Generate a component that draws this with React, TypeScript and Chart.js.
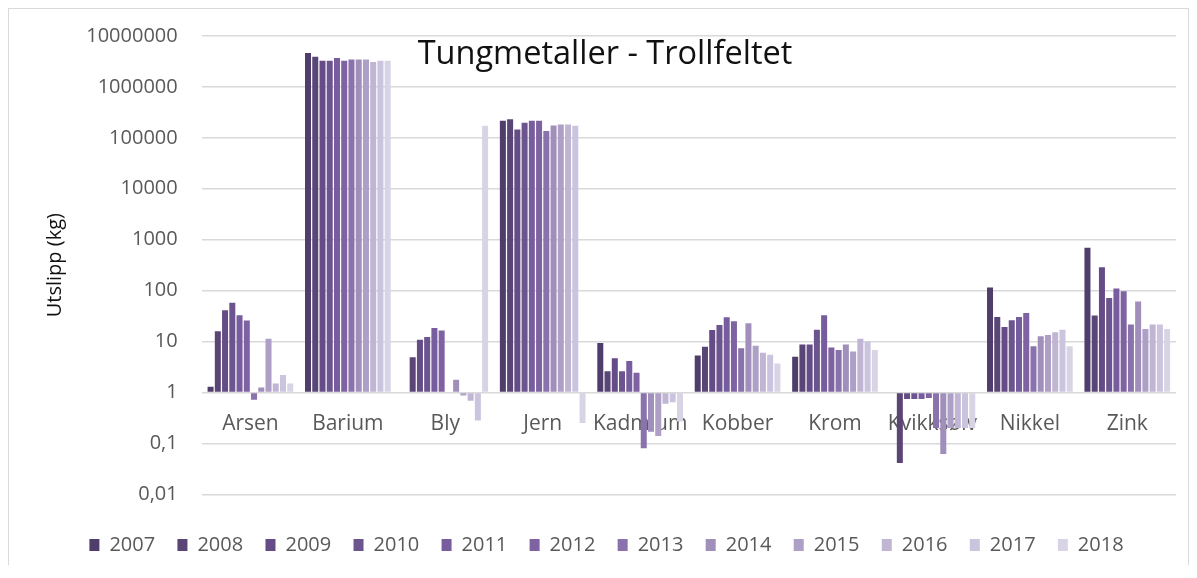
import React, { useEffect, useRef } from "react";
import { Chart, registerables } from "chart.js";

Chart.register(...registerables);

const titleText = "Tungmetaller - Trollfeltet";
const yAxisTitle = "Utslipp (kg)";
const categories = ["Arsen", "Barium", "Bly", "Jern", "Kadmium", "Kobber", "Krom", "Kvikksølv", "Nikkel", "Zink"];
const years = ["2007", "2008", "2009", "2010", "2011", "2012", "2013", "2014", "2015", "2016", "2017", "2018"];
const yTickValues = [0.01, 0.1, 1, 10, 100, 1000, 10000, 100000, 1000000, 10000000];
const yTickLabels = ["0,01", "0,1", "1", "10", "100", "1000", "10000", "100000", "1000000", "10000000"];

// values per year, in category order
const v2007 = [1.3, 4650000, null, 216000, 9.4, 5.3, 5.0, null, 115, 696];
const v2008 = [16, 3930000, 4.9, 233000, 2.6, 7.9, 8.7, 0.041, 30.4, 32.3];
const v2009 = [41, 3280000, 10.9, 146000, 4.7, 16.9, 8.7, 0.74, 19.3, 289];
const v2010 = [58, 3280000, 12.3, 197000, 2.6, 21.2, 17.1, 0.74, 26.1, 72];
const v2011 = [33, 3700000, 18.4, 216000, 4.15, 29.9, 32.8, 0.74, 30.4, 110];
const v2012 = [26, 3280000, 16.4, 216000, 2.44, 25, 7.6, 0.78, 36.4, 97];
const v2013 = [0.72, 3470000, null, 137000, 0.08, 7.35, 6.8, 0.2, 8.05, 21.5];
const v2014 = [1.25, 3470000, 1.78, 175000, 0.17, 22.8, 8.7, 0.062, 12.7, 61];
const v2015 = [11.4, 3470000, 0.87, 183000, 0.14, 8.3, 6.4, 0.2, 13.4, 17.7];
const v2016 = [1.5, 3090000, 0.69, 183000, 0.6, 6.0, 11.4, 0.2, 15.2, 21.5];
const v2017 = [2.2, 3280000, 0.28, 172000, 0.64, 5.5, 10.1, 0.2, 17.1, 21.5];
const v2018 = [1.5, 3280000, 172000, 0.25, 0.27, 3.7, 6.8, 0.2, 8.05, 17.7];

const seriesValues = [v2007, v2008, v2009, v2010, v2011, v2012, v2013, v2014, v2015, v2016, v2017, v2018];
const seriesColors = [
  "#4f3d6b", "#5a4577", "#654c86", "#6c548f", "#775d9d", "#7e62a2",
  "#8a72ad", "#a08fba", "#ad9fc6", "#c0b6d4", "#cbc4de", "#d8d4e6",
];

const FONT = '"Open Sans", "DejaVu Sans", sans-serif';

const overlayTitle = {
  id: "overlayTitle",
  afterDraw(chart: any) {
    const ctx = chart.ctx;
    ctx.save();
    ctx.font = `32.5px ${FONT}`;
    ctx.fillStyle = "#111111";
    ctx.textAlign = "center";
    ctx.textBaseline = "middle";
    ctx.fillText(titleText, 596, 46);
    ctx.restore();
  },
};

export default function App() {
  const ref = useRef<HTMLCanvasElement | null>(null);

  useEffect(() => {
    if (!ref.current) return;
    const chart = new Chart(ref.current, {
      type: "bar",
      data: {
        labels: categories,
        datasets: years.map((y, i) => ({
          label: y,
          data: seriesValues[i],
          base: 1,
          backgroundColor: seriesColors[i],
          borderWidth: 0,
          categoryPercentage: 0.892,
          barPercentage: 0.83,
        })),
      },
      options: {
        responsive: false,
        animation: false,
        layout: { padding: { top: 27, left: 28, right: 12, bottom: 0 } },
        plugins: {
          title: { display: false },
          tooltip: { enabled: false },
          legend: {
            position: "bottom",
            title: { display: true, text: " ", font: { size: 10 }, padding: { top: 3, bottom: 3.4 } },
            labels: {
              boxWidth: 10,
              boxHeight: 12,
              padding: 22.3,
              color: "#595959",
              font: { family: FONT, size: 20 },
            },
          },
        },
        scales: {
          x: {
            type: "category",
            position: { y: 1 } as any,
            grid: { display: false, drawTicks: false },
            border: { display: false },
            ticks: { color: "#595959", font: { family: FONT, size: 21 }, padding: 19, maxRotation: 0, autoSkip: false },
          },
          y: {
            type: "logarithmic",
            min: 0.01,
            max: 10000000,
            grid: { color: "#d9d9d9", lineWidth: 1.5, drawTicks: true, tickLength: 24, tickColor: "rgba(0,0,0,0)" },
            border: { display: false },
            afterBuildTicks: (s: any) => {
              s.ticks = yTickValues.map((v) => ({ value: v, major: true }));
            },
            ticks: {
              color: "#595959",
              font: { family: FONT, size: 20 },
              padding: 0,
              callback: (value: any) => {
                const idx = yTickValues.findIndex((t) => Math.abs(Math.log10(t) - Math.log10(value)) < 1e-6);
                return idx >= 0 ? yTickLabels[idx] : "";
              },
            },
            title: {
              display: true,
              text: yAxisTitle,
              color: "#111111",
              font: { family: FONT, size: 20 },
              padding: { top: 6, bottom: 4 },
            },
            afterFit: (s: any) => { s.width = 164.7; },
          },
        },
      },
      plugins: [overlayTitle],
    });
    return () => chart.destroy();
  }, []);

  return (
    <div
      style={{
        width: 1179,
        borderTop: "1px solid #d9d9d9",
        borderLeft: "1px solid #d9d9d9",
        borderRight: "1px solid #d9d9d9",
        background: "#ffffff",
      }}
    >
      <canvas ref={ref} width={1179} height={556} style={{ display: "block", width: 1179, height: 556 }} />
    </div>
  );
}
